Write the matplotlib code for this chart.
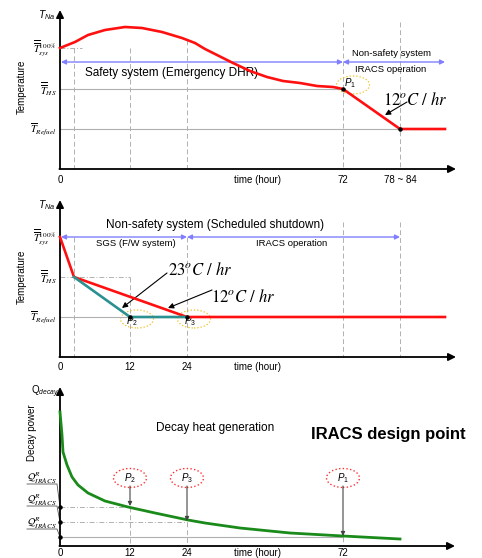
import matplotlib
matplotlib.use('Agg')
import matplotlib.pyplot as plt
from matplotlib.patches import Ellipse

plt.rcParams['font.family'] = ['Liberation Sans', 'DejaVu Sans']
plt.rcParams['mathtext.fontset'] = 'custom'
plt.rcParams['mathtext.rm'] = 'Liberation Sans'
plt.rcParams['mathtext.it'] = 'Liberation Sans:italic'

# Schematic data (x: schematic time position, y: schematic level)
# Panel 1 - Emergency DHR
dhr_x = [0, 15, 28, 45, 65, 82, 102, 122, 135, 145, 157, 173, 190, 207, 223, 240, 257, 273, 283, 340, 385]
dhr_y = [121, 127, 134, 139, 142, 141, 137, 131, 126, 120, 114, 106, 98, 92, 88, 86, 83, 82, 80, 40, 40]
# Panel 2 - Scheduled shutdown
sched_red_x = [0, 14, 127, 385]
sched_red_y = [120, 80, 40, 40]
sched_sgs_x = [14, 70, 127]
sched_sgs_y = [80, 40, 40]
# Panel 3 - decay heat
decay_x = [0, 2, 3, 7, 12, 18, 28, 45, 68, 95, 128, 145, 180, 230, 283, 340]
decay_y = [134, 111, 94, 81, 69, 61, 53, 45, 39, 33, 26, 23, 18, 13, 10, 7]

T_sys, T_hs, T_ref = 121, 80, 40
x12, x24, x72, x78 = 70, 127, 283, 340
q_levels = [39, 24, 9]

GREY = '#b0b0b0'
BLUE = '#8080ff'
RED = '#ff1010'
TEAL = '#2a9090'
GREEN = '#1a8a1a'

fig = plt.figure(figsize=(4.82, 5.58), dpi=100)
W, H = 482, 558

def make_ax(top, bottom, axis_py):
    ax = fig.add_axes([0, 1 - bottom / H, 1, (bottom - top) / H])
    ax.set_xlim(-60, W - 60)
    ax.set_ylim(axis_py - bottom, axis_py - top)
    ax.axis('off')
    return ax

def axes_arrows(ax, ytop, xend):
    ax.annotate('', xy=(0, ytop), xytext=(0, 0),
                arrowprops=dict(arrowstyle='-|>', color='k', lw=1.3, mutation_scale=11, shrinkA=0, shrinkB=0))
    ax.annotate('', xy=(xend, 0), xytext=(-0.6, 0),
                arrowprops=dict(arrowstyle='-|>', color='k', lw=1.3, mutation_scale=11, shrinkA=0, shrinkB=0))

def vdash(ax, x, y0, y1=0):
    ax.plot([x, x], [y0, y1], color=GREY, lw=0.7, ls=(0, (5, 3)), zorder=1)

def blue_arrow(ax, x0, x1, y):
    ax.annotate('', xy=(x1, y), xytext=(x0, y),
                arrowprops=dict(arrowstyle='<|-|>', color=BLUE, lw=1.0, mutation_scale=7,
                                shrinkA=0, shrinkB=0), zorder=3)

def note_arrow(ax, xy, xytext):
    ax.annotate('', xy=xy, xytext=xytext,
                arrowprops=dict(arrowstyle='-|>', color='k', lw=0.8, mutation_scale=8, shrinkA=0, shrinkB=0))

def ylevels(ax, labels):
    for lab, y in labels:
        ax.text(-3, y, lab, ha='right', va='center', fontsize=7.5, math_fontfamily='stix')

# ---------------- Panel 1 ----------------
ax1 = make_ax(0, 186, 169)
for x in [14, x12]:
    vdash(ax1, x, T_sys)
vdash(ax1, x24, 129)
vdash(ax1, x72, 147)
vdash(ax1, x78, 147)
ax1.plot([0, 22], [T_sys, T_sys], color=GREY, lw=0.7, ls=(0, (5, 2, 1, 2)))
ax1.plot([0, x72], [T_hs, T_hs], color=GREY, lw=0.8)
ax1.plot([0, x78], [T_ref, T_ref], color=GREY, lw=0.8)
ax1.plot(dhr_x, dhr_y, color=RED, lw=1.9, solid_joinstyle='round', zorder=4)
ax1.plot([x72, x78], [T_hs, T_ref], 'o', color='k', ms=2.2, zorder=5)
blue_arrow(ax1, 1, x72, 107)
blue_arrow(ax1, x72, 385, 107)
axes_arrows(ax1, 159, 396)
ax1.text(-13, 154, r'$T_{Na}$', ha='center', va='center', fontsize=7.5)
ylevels(ax1, [(r'$\overline{\overline{T}}_{sys}^{100\%}$', T_sys),
              (r'$\overline{\overline{T}}_{HS}$', T_hs),
              (r'$\overline{T}_{Refuel}$', T_ref)])
ax1.text(-38, 82, 'Temperature', rotation=90, ha='center', va='center', fontsize=7)
ax1.text(112, 96, 'Safety system (Emergency DHR)', ha='center', va='center', fontsize=8.5)
ax1.text(331, 116, 'Non-safety system', ha='center', va='center', fontsize=6.8)
ax1.text(331, 99, 'IRACS operation', ha='center', va='center', fontsize=6.8)
ax1.add_patch(Ellipse((293, 84), 33, 18, fill=False, ec='#f0c020', lw=0.9, ls=':'))
ax1.text(290, 86, r'$P_1$', ha='center', va='center', fontsize=7)
ax1.text(355, 69, r'$12^oC\ /\ hr$', ha='center', va='center', fontsize=12, math_fontfamily='stix')
note_arrow(ax1, (325, 54), (347, 67))
for x, lab in [(0, '0'), (198, 'time (hour)'), (x72, '72'), (x78, '78 ~ 84')]:
    ax1.text(x, -11, lab, ha='center', va='center', fontsize=7)

# ---------------- Panel 2 ----------------
ax2 = make_ax(186, 372, 357)
vdash(ax2, 14, 120)
vdash(ax2, x12, T_hs)
vdash(ax2, x24, 120)
vdash(ax2, x72, 135)
vdash(ax2, x78, 135)
ax2.plot([0, x12], [T_hs, T_hs], color=GREY, lw=0.7, ls=(0, (5, 2, 1, 2)))
ax2.plot([0, x24], [T_ref, T_ref], color=GREY, lw=0.8)
ax2.plot(sched_red_x, sched_red_y, color=RED, lw=1.9, solid_joinstyle='round', zorder=4)
ax2.plot(sched_sgs_x, sched_sgs_y, color=TEAL, lw=1.9, solid_joinstyle='round', zorder=5)
ax2.plot([x12, x24], [T_ref, T_ref], 'o', color='k', ms=2.2, zorder=6)
blue_arrow(ax2, 1, x24, 120)
blue_arrow(ax2, x24, x78, 120)
axes_arrows(ax2, 157, 396)
ax2.text(-13, 152, r'$T_{Na}$', ha='center', va='center', fontsize=7.5)
ylevels(ax2, [(r'$\overline{\overline{T}}_{sys}^{100\%}$', 120),
              (r'$\overline{\overline{T}}_{HS}$', T_hs),
              (r'$\overline{T}_{Refuel}$', T_ref)])
ax2.text(-38, 80, 'Temperature', rotation=90, ha='center', va='center', fontsize=7)
ax2.text(155, 132, 'Non-safety system (Scheduled shutdown)', ha='center', va='center', fontsize=8.5)
ax2.text(76, 113, 'SGS (F/W system)', ha='center', va='center', fontsize=6.8)
ax2.text(232, 113, 'IRACS operation', ha='center', va='center', fontsize=6.8)
ax2.text(140, 87, r'$23^oC\ /\ hr$', ha='center', va='center', fontsize=12, math_fontfamily='stix')
ax2.text(183, 60, r'$12^oC\ /\ hr$', ha='center', va='center', fontsize=12, math_fontfamily='stix')
note_arrow(ax2, (62, 49), (107, 84))
note_arrow(ax2, (108, 49), (152, 67))
ax2.add_patch(Ellipse((77, 38), 33, 18, fill=False, ec='#f0c020', lw=0.9, ls=':'))
ax2.add_patch(Ellipse((134, 38), 33, 18, fill=False, ec='#f0c020', lw=0.9, ls=':'))
ax2.text(72, 36, r'$P_2$', ha='center', va='center', fontsize=7)
ax2.text(130, 36, r'$P_3$', ha='center', va='center', fontsize=7)
for x, lab in [(0, '0'), (x12, '12'), (x24, '24'), (198, 'time (hour)')]:
    ax2.text(x, -10, lab, ha='center', va='center', fontsize=7)

# ---------------- Panel 3 ----------------
ax3 = make_ax(372, 558, 546)
for x, q in zip([x12, x24, x72], q_levels):
    vdash(ax3, x, q)
    ax3.annotate('', xy=(x, q + 1), xytext=(x, 60),
                 arrowprops=dict(arrowstyle='-|>', color='#444444', lw=0.8, mutation_scale=6,
                                 shrinkA=0, shrinkB=0), zorder=6)
ax3.plot([0, x12], [q_levels[0]] * 2, color=GREY, lw=0.7, ls=(0, (5, 2, 1, 2)))
ax3.plot([0, x24], [q_levels[1]] * 2, color=GREY, lw=0.7, ls=(0, (5, 2, 1, 2)))
ax3.plot([0, x72], [q_levels[2]] * 2, color=GREY, lw=0.8)
ax3.plot(decay_x, decay_y, color=GREEN, lw=2.0, solid_joinstyle='round', zorder=4)
ax3.plot([0, 0, 0], q_levels, 'o', color='k', ms=2.2, zorder=6)
axes_arrows(ax3, 159, 395)
ax3.text(-15, 154, r'Q$_{decay}$', ha='center', va='center', fontsize=7)
ax3.text(-28, 113, 'Decay power', rotation=90, ha='center', va='center', fontsize=7)
for yl, yu, q in zip([68, 46, 23], [62, 40, 17], q_levels):
    ax3.text(-18, yl, r'$\mathcal{Q}^{R}_{IRACS}$', ha='center', va='center', fontsize=7.5,
             math_fontfamily='stix')
    ax3.plot([-33, -3, 0], [yu, yu, q], color='#555555', lw=0.6)
for (x, lab) in zip([x12, x24, x72], [r'$P_2$', r'$P_3$', r'$P_1$']):
    ax3.add_patch(Ellipse((x, 68), 33, 19, fill=False, ec='#ff3030', lw=1.0, ls=':'))
    ax3.text(x, 68, lab, ha='center', va='center', fontsize=7)
ax3.text(155, 118, 'Decay heat generation', ha='center', va='center', fontsize=8.5)
ax3.text(328, 111, 'IRACS design point', ha='center', va='center', fontsize=12, fontweight='bold')
for x, lab in [(0, '0'), (x12, '12'), (x24, '24'), (198, 'time (hour)'), (x72, '72')]:
    ax3.text(x, -7.5, lab, ha='center', va='center', fontsize=7)

fig.savefig('out.png', dpi=100)
